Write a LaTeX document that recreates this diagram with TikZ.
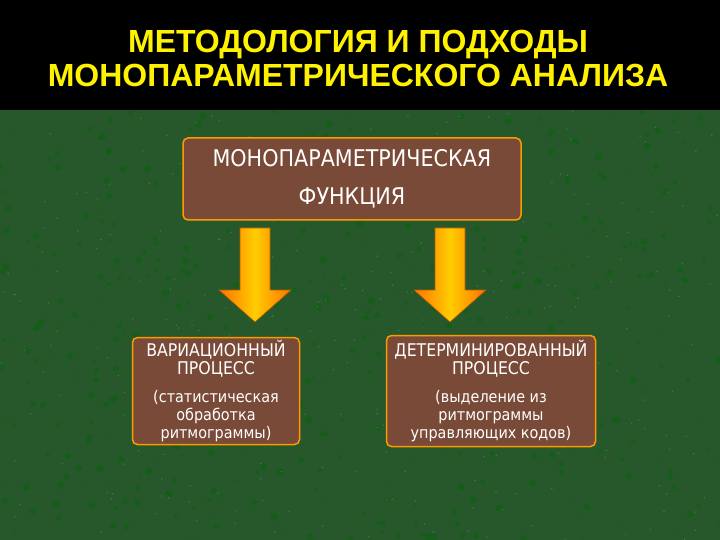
\documentclass[tikz,border=0pt]{standalone}
\usepackage{fontspec}
\setmainfont{DejaVu Sans Condensed}
\newfontfamily\titlefont{Liberation Sans}
\begin{document}
\begin{tikzpicture}[x=1pt,y=-1pt,
  box/.style={draw=orange!80!yellow, line width=1.5pt, fill=boxbrown, rounded corners=5pt, text=white, align=center, inner sep=0pt},
  arr/.style={left color=orange!90!red, right color=orange!90!red, middle color=yellow!60!orange, draw=orange!70!black, line width=0.6pt}]
\definecolor{boxbrown}{RGB}{122,74,56}
\definecolor{bggreen}{RGB}{38,88,44}
\useasboundingbox (0,0) rectangle (720,540);
\fill[bggreen] (0,0) rectangle (720,540);
\pgfmathsetseed{7}
\foreach \i in {1,...,500}{
  \pgfmathsetmacro{\px}{rnd*720}\pgfmathsetmacro{\py}{110+rnd*430}
  \pgfmathsetmacro{\pr}{1+rnd*3}
  \fill[green!40!black, opacity=0.35] (\px,\py) circle (\pr);
}
\foreach \i in {1,...,300}{
  \pgfmathsetmacro{\px}{rnd*720}\pgfmathsetmacro{\py}{110+rnd*430}
  \fill[green!60!white, opacity=0.25] (\px,\py) circle (0.8);
}
\fill[black] (0,0) rectangle (720,110);
\node[text=yellow, font=\titlefont\bfseries\fontsize{32}{34}\selectfont, align=center] (title) at (358,58) {МЕТОДОЛОГИЯ И ПОДХОДЫ\\МОНОПАРАМЕТРИЧЕСКОГО АНАЛИЗА};
\node[box, minimum width=338, minimum height=82, font=\fontsize{23}{38}\selectfont] (top) at (352,179) {МОНОПАРАМЕТРИЧЕСКАЯ\\ФУНКЦИЯ};
\node[box, minimum width=167, minimum height=107, font=\fontsize{17.5}{18}\selectfont] (left) at (216,391) {ВАРИАЦИОННЫЙ\\ПРОЦЕСС\\[10pt]{\fontsize{16}{18}\selectfont(статистическая}\\{\fontsize{16}{18}\selectfont обработка}\\{\fontsize{16}{18}\selectfont ритмограммы)}};
\node[box, minimum width=209, minimum height=111, font=\fontsize{17.5}{18}\selectfont] (right) at (491,391) {ДЕТЕРМИНИРОВАННЫЙ\\ПРОЦЕСС\\[10pt]{\fontsize{16}{18}\selectfont(выделение  из}\\{\fontsize{16}{18}\selectfont ритмограммы}\\{\fontsize{16}{18}\selectfont управляющих кодов)}};
\foreach \cx in {255,450}{
  \draw[arr] (\cx-15,228) -- (\cx+15,228) -- (\cx+15,290) -- (\cx+36,290) -- (\cx,322) -- (\cx-36,290) -- (\cx-15,290) -- cycle;
}
\end{tikzpicture}
\end{document}
